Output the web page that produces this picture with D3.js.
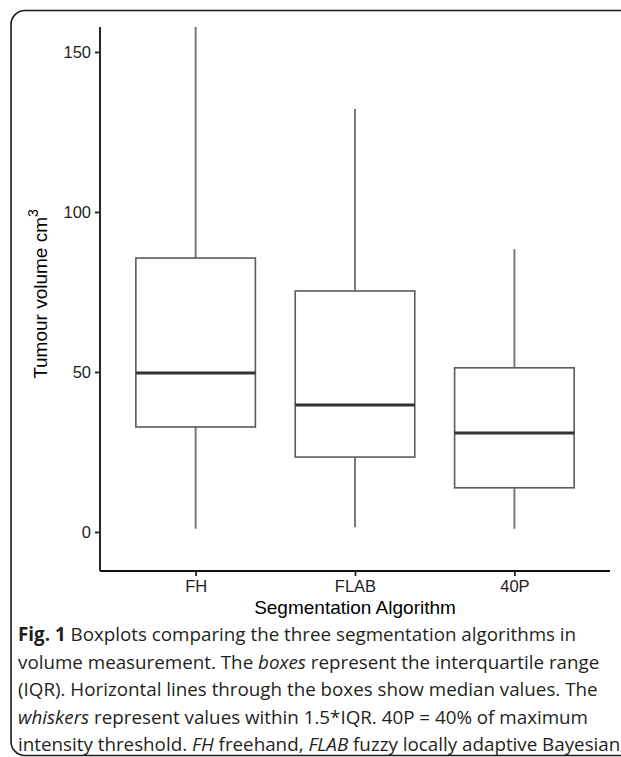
<!DOCTYPE html>
<html>
<head>
<meta charset="utf-8">
<script src="https://cdn.jsdelivr.net/npm/d3@7"></script>
<style>
  html, body { margin: 0; padding: 0; background: #fff; }
  svg { display: block; }
</style>
</head>
<body>
<svg id="fig"></svg>
<script>
// Box statistics (tumour volume, cm3)
const categories = ["FH", "FLAB", "40P"];
const whiskerLow = [1.0, 1.5, 1.0];
const q1 = [32.8, 23.4, 13.8];
const medians = [49.7, 39.7, 30.9];
const q3 = [85.6, 75.3, 51.3];
const whiskerHigh = [157.8, 132.2, 88.4];
const yTicks = [0, 50, 100, 150];
const yLimits = [-12.2, 157.8];

const W = 621, H = 757;

// Panel placement inside the page
let margin = {top: 27, right: 11, bottom: 186, left: 100},
    width = W - margin.left - margin.right,
    height = H - margin.top - margin.bottom;

let x = d3.scalePoint().domain(categories).range([0, width]).padding(0.6);
let y = d3.scaleLinear().domain(yLimits).range([height, 0]);
let boxW = x.step() * 0.75;

let svg = d3.select("#fig").attr("width", W).attr("height", H);

// Rounded frame round figure + caption (runs off the right edge)
svg.append("rect")
    .attr("x", 11).attr("y", 10.5)
    .attr("width", 700).attr("height", 745)
    .attr("rx", 14)
    .attr("fill", "none")
    .attr("stroke", "#1a1a1a")
    .attr("stroke-width", 1.6);

let g = svg.append("g")
    .attr("transform", "translate(" + margin.left + "," + margin.top + ")");

let stats = categories.map(function(c, i) {
    return {cat: c, lo: whiskerLow[i], q1: q1[i], med: medians[i], q3: q3[i], hi: whiskerHigh[i]};
});

// Whiskers
let box = g.selectAll(".box").data(stats).enter().append("g").attr("class", "box");
box.append("line")
    .attr("x1", d => x(d.cat)).attr("x2", d => x(d.cat))
    .attr("y1", d => y(d.q3)).attr("y2", d => y(d.hi))
    .attr("stroke", "#7a7a7a").attr("stroke-width", 2);
box.append("line")
    .attr("x1", d => x(d.cat)).attr("x2", d => x(d.cat))
    .attr("y1", d => y(d.lo)).attr("y2", d => y(d.q1))
    .attr("stroke", "#7a7a7a").attr("stroke-width", 2);

// Boxes
box.append("rect")
    .attr("x", d => x(d.cat) - boxW / 2)
    .attr("width", boxW)
    .attr("y", d => y(d.q3))
    .attr("height", d => y(d.q1) - y(d.q3))
    .attr("fill", "#fff")
    .attr("stroke", "#5a5a5a").attr("stroke-width", 1.6);

// Medians
box.append("line")
    .attr("x1", d => x(d.cat) - boxW / 2).attr("x2", d => x(d.cat) + boxW / 2)
    .attr("y1", d => y(d.med)).attr("y2", d => y(d.med))
    .attr("stroke", "#333").attr("stroke-width", 3);

// Axes
let yAxis = g.append("g")
    .call(d3.axisLeft(y).tickValues(yTicks).tickSize(5).tickPadding(4));
let xAxis = g.append("g")
    .attr("transform", "translate(0," + height + ")")
    .call(d3.axisBottom(x).tickSize(5).tickPadding(4));

[yAxis, xAxis].forEach(function(a) {
    a.attr("font-size", null).attr("font-family", null);
    a.select(".domain").attr("stroke", "#111").attr("stroke-width", 1.8);
    a.selectAll(".tick line").attr("stroke", "#222").attr("stroke-width", 1.8);
    a.selectAll(".tick text")
        .attr("fill", "#1e1e1e")
        .style("font-family", "'Liberation Sans', Arial, sans-serif")
        .style("font-size", "16.5px");
});
yAxis.select(".domain").attr("d", "M0," + height + "V0");
xAxis.select(".domain").attr("d", "M0,0H" + width);

// Axis titles
let yTitle = g.append("text")
    .attr("transform", "translate(-53," + (height / 2 - 5) + ") rotate(-90)")
    .attr("text-anchor", "middle")
    .style("font-family", "'Liberation Sans', Arial, sans-serif")
    .style("font-size", "19px")
    .attr("fill", "#000");
yTitle.append("tspan").text("Tumour volume  cm");
yTitle.append("tspan").attr("dy", -9).style("font-size", "14px").text("3");

g.append("text")
    .attr("x", width / 2)
    .attr("y", height + 43)
    .attr("text-anchor", "middle")
    .style("font-family", "'Liberation Sans', Arial, sans-serif")
    .style("font-size", "19px")
    .attr("fill", "#000")
    .text("Segmentation Algorithm");

// Caption
const captionLines = [
    [["Fig. 1", "b"], [" Boxplots comparing the three segmentation algorithms in", ""]],
    [["volume measurement. The ", ""], ["boxes", "i"], [" represent the interquartile range", ""]],
    [["(IQR). Horizontal lines through the boxes show median values. The", ""]],
    [["whiskers", "i"], [" represent values within 1.5*IQR. 40P = 40% of maximum", ""]],
    [["intensity threshold. ", ""], ["FH", "i"], [" freehand, ", ""], ["FLAB", "i"], [" fuzzy locally adaptive Bayesian", ""]]
];

let cap = svg.append("g")
    .style("font-family", "'Open Sans', sans-serif")
    .style("font-size", "18.8px")
    .attr("fill", "#231f20");

captionLines.forEach(function(line, i) {
    let t = cap.append("text").attr("x", 18).attr("y", 641 + i * 27.5);
    line.forEach(function(seg) {
        t.append("tspan")
            .style("font-weight", seg[1] === "b" ? "bold" : null)
            .style("font-style", seg[1] === "i" ? "italic" : null)
            .text(seg[0]);
    });
});
</script>
</body>
</html>
